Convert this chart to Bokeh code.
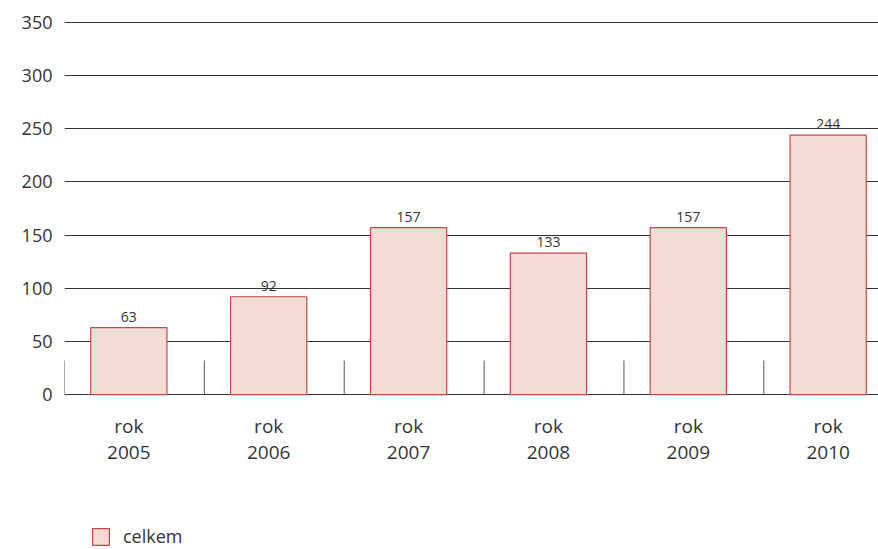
from bokeh.plotting import figure
from bokeh.models import Range1d, FixedTicker, ColumnDataSource, Legend, LegendItem
from bokeh.core.properties import value
from bokeh.embed import file_html
from bokeh.resources import INLINE

years = ["2005", "2006", "2007", "2008", "2009", "2010"]
prefix = "rok"
totals = [63, 92, 157, 133, 157, 244]
y_ticks = [0, 50, 100, 150, 200, 250, 300, 350]
series_name = "celkem"

FONT = "Open Sans"
TXT = "#333333"
FILL = "#f1ddd4"
EDGE = "#c4474d"

xs = list(range(len(years)))
src = ColumnDataSource(dict(
    x=xs,
    top=totals,
    lab=[str(v) for v in totals],
    rok=[prefix] * len(years),
    yr=years,
    zero=[0] * len(years),
    sep=[i - 0.46 for i in xs],
    sep_top=[32] * len(years),
))

p = figure(width=878, height=549, output_backend="svg", toolbar_location=None,
           x_range=Range1d(-0.46, 5.36), y_range=Range1d(-145.8, 351.9),
           min_border_left=64, min_border_right=0, min_border_top=20, min_border_bottom=0)
p.outline_line_color = None
p.xaxis.visible = False
p.xgrid.visible = False

yt = FixedTicker(ticks=y_ticks)
p.yaxis.ticker = yt
p.yaxis.axis_line_color = None
p.yaxis.major_tick_line_color = None
p.yaxis.minor_tick_line_color = None
p.yaxis.major_label_standoff = 6
p.yaxis.major_label_text_font = FONT
p.yaxis.major_label_text_font_size = "18px"
p.yaxis.major_label_text_color = TXT
p.ygrid.ticker = yt
p.ygrid.grid_line_color = "#333333"
p.ygrid.grid_line_width = 1

# category separators
p.segment(x0="sep", y0="zero", x1="sep", y1="sep_top", source=src,
          line_color="#555555", line_width=1)

bars = p.vbar(x="x", top="top", width=0.545, bottom=0, source=src,
              fill_color=FILL, line_color=EDGE, line_width=1.2)

p.text(x="x", y="top", text="lab", source=src, text_align="center",
       text_baseline="bottom", y_offset=-6, text_font=value(FONT),
       text_font_size="14px", text_color=TXT)

p.text(x="x", y="zero", text="rok", source=src, text_align="center",
       text_baseline="middle", y_offset=31, text_font=value(FONT),
       text_font_size="19px", text_color=TXT)
p.text(x="x", y="zero", text="yr", source=src, text_align="center",
       text_baseline="middle", y_offset=58, text_font=value(FONT),
       text_font_size="19px", text_color=TXT)

legend = Legend(items=[LegendItem(label=series_name, renderers=[bars])],
                location=(26, 1), orientation="horizontal",
                glyph_width=21, glyph_height=21, label_standoff=12,
                label_text_font=FONT, label_text_font_size="18px",
                label_text_color=TXT, padding=0, margin=0,
                border_line_color=None, background_fill_alpha=0)
p.add_layout(legend)

open("out.html", "w").write(file_html(p, INLINE))
